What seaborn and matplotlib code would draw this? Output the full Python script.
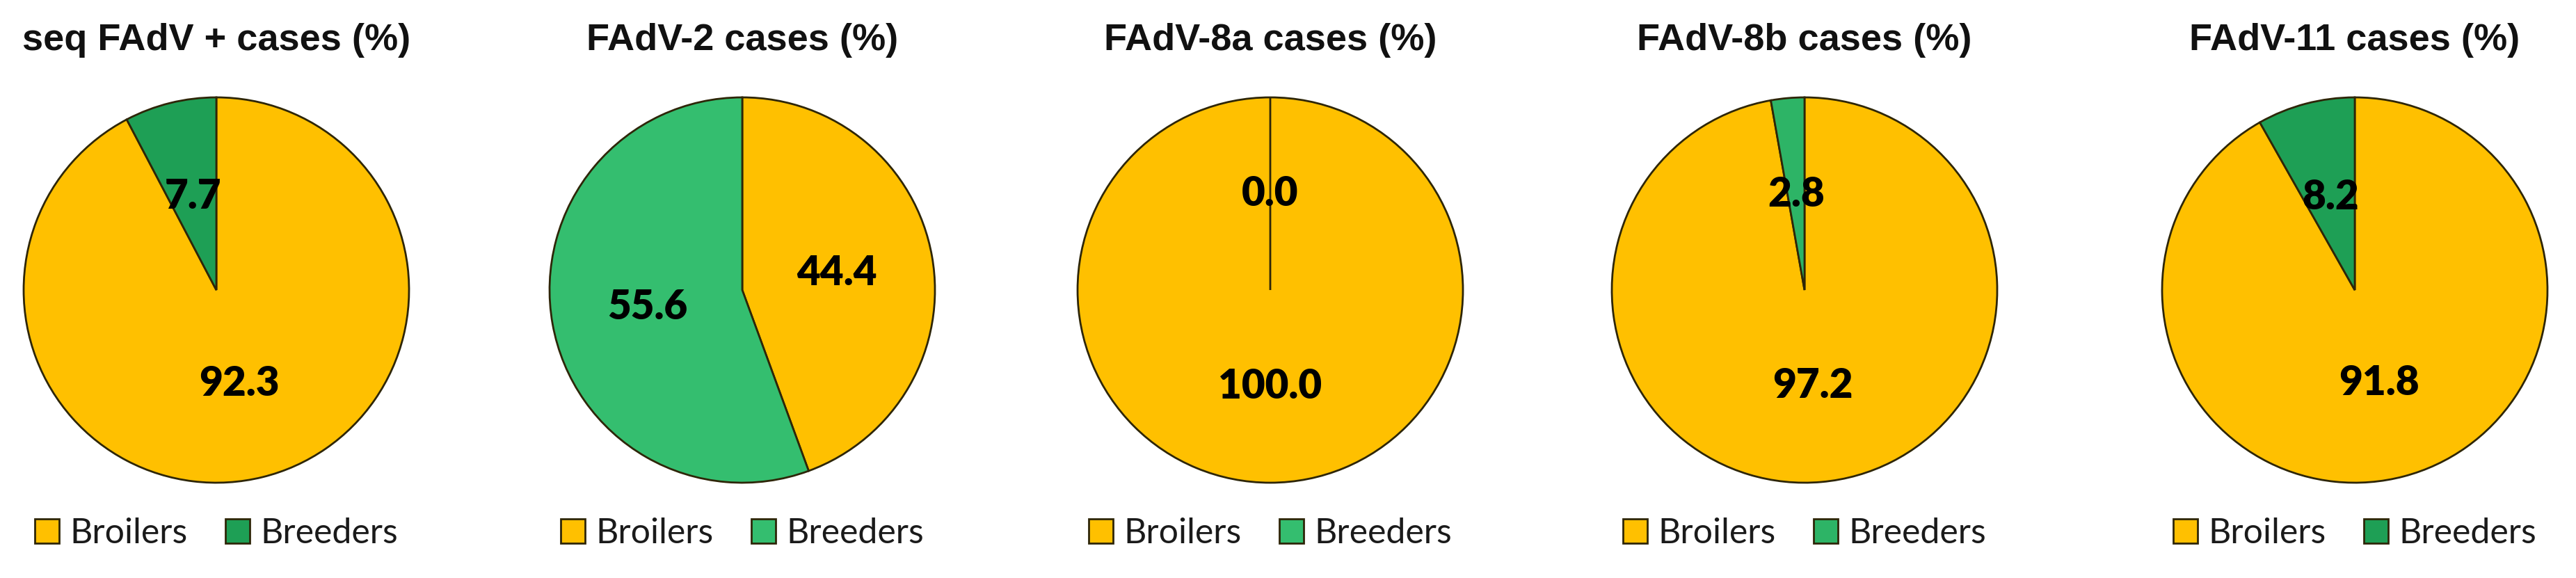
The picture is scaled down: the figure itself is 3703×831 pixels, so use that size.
import matplotlib
matplotlib.use("Agg")
import matplotlib.pyplot as plt
import matplotlib.patches as mpatches
import seaborn as sns

titles = ["seq FAdV + cases (%)", "FAdV-2 cases (%)", "FAdV-8a cases (%)",
          "FAdV-8b cases (%)", "FAdV-11 cases (%)"]
groups = ["Broilers", "Breeders"]
broilers = [92.3, 44.4, 100.0, 97.2, 91.8]
breeders = [7.7, 55.6, 0.0, 2.8, 8.2]

yellow = "#FFC000"
greens = ["#1E9F55", "#34BE6F", "#34BE6F", "#2DB466", "#1E9F55"]
edge = "#2e2608"

sns.set_style("white")
plt.rcParams["font.family"] = ["Liberation Sans", "DejaVu Sans"]

W, H = 3703, 831
fig = plt.figure(figsize=(W / 100, H / 100), dpi=100)

# layout in pixels
centers = [311, 1067, 1826, 2594, 3385]
cy = 417
r = 277
box = r * 1.25

for i, cx in enumerate(centers):
    ax = fig.add_axes([(cx - box) / W, (H - cy - box) / H, 2 * box / W, 2 * box / H])
    vals = [broilers[i], breeders[i]]
    cols = [yellow, greens[i]]
    wedges, texts, autotexts = ax.pie(
        vals, colors=cols, startangle=90, counterclock=False,
        autopct=lambda p: f"{p:.1f}", pctdistance=0.5,
        wedgeprops=dict(edgecolor=edge, linewidth=2),
        textprops=dict(fontsize=42, fontweight="heavy", color="black", family="Lato"),
    )
    ax.set_aspect("equal")

    fig.text(cx / W, 1 - 58 / H, titles[i], ha="center", va="center",
             fontsize=39, fontweight="bold", color="#111111")

    handles = [mpatches.Patch(facecolor=c, edgecolor=edge, linewidth=2) for c in cols]
    fig.legend(handles, groups, loc="center", bbox_to_anchor=(cx / W, 1 - 767 / H),
               ncol=2, frameon=False, prop=dict(family="Lato", size=36),
               handlelength=0.7, handleheight=0.7, handletextpad=0.3,
               columnspacing=1.1, borderaxespad=0, borderpad=0, labelcolor="#1a1a1a")

fig.savefig("out.png", dpi=100, facecolor="white")
